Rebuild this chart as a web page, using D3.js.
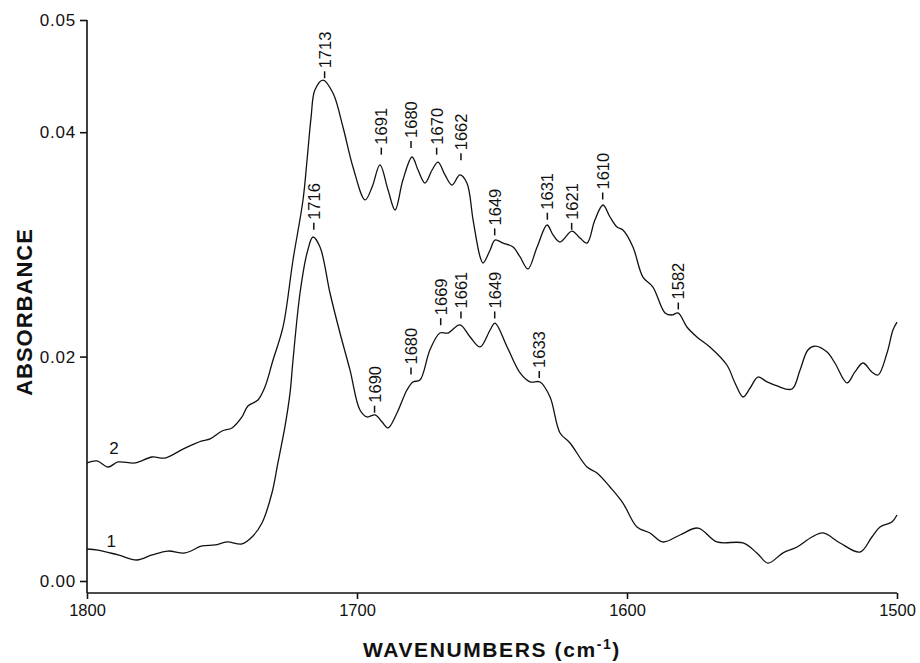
<!DOCTYPE html>
<html><head><meta charset="utf-8">
<script src="https://cdn.jsdelivr.net/npm/d3@7"></script>
<style>
body{margin:0;background:#fff;}
svg{display:block;}
</style></head><body>
<svg id="chart" width="920" height="663"></svg>
<script>
// ---- data ----
const wn2 = [1800,1796.3,1792.2,1788.5,1782.2,1775.9,1771.1,1763.7,1757.4,1754.4,1750,1746.3,1742.6,1740.4,1736.7,1734.1,1731.1,1727.4,1723.7,1720,1718.5,1717,1715.6,1712.6,1708.9,1705.2,1701.5,1697,1694.4,1691.5,1688.5,1685.9,1683,1679.6,1677.4,1674.8,1672.2,1670,1667.4,1664.8,1661.9,1659.3,1657,1654.4,1653.3,1650.7,1648.9,1645.9,1642.2,1639.6,1636.7,1633.3,1629.6,1627.4,1624.8,1620.4,1617.4,1614.8,1611.9,1608.9,1606.3,1603.7,1601.5,1597.8,1594.1,1590.4,1585.9,1583.3,1581.1,1577.8,1574.1,1569.3,1563,1560,1557,1554.4,1551.5,1548.1,1544.4,1538.9,1535.9,1533,1530.4,1525.9,1523,1518.5,1515.6,1512.6,1509.3,1507,1503.7,1501.5,1500];
const abs2 = [0.01052,0.01070,0.01016,0.01061,0.01052,0.01105,0.01096,0.01185,0.01248,0.01266,0.01337,0.01364,0.01462,0.01560,0.01613,0.01729,0.01970,0.02264,0.02861,0.03396,0.03752,0.04135,0.04376,0.04465,0.04349,0.04046,0.03690,0.03396,0.03512,0.03708,0.03485,0.03307,0.03574,0.03779,0.03663,0.03547,0.03663,0.03734,0.03619,0.03529,0.03619,0.03547,0.03217,0.02888,0.02834,0.02950,0.03039,0.03012,0.02977,0.02888,0.02781,0.02977,0.03173,0.03084,0.03021,0.03119,0.03057,0.03012,0.03217,0.03351,0.03244,0.03155,0.03128,0.02977,0.02709,0.02620,0.02389,0.02371,0.02389,0.02264,0.02175,0.02086,0.01925,0.01765,0.01640,0.01720,0.01818,0.01774,0.01738,0.01711,0.01881,0.02059,0.02094,0.02041,0.01943,0.01765,0.01863,0.01943,0.01863,0.01836,0.02032,0.02237,0.02308];

const wn1 = [1800,1795.9,1788.5,1781.5,1775.9,1770,1763.7,1757.4,1752.6,1748.1,1742.6,1738.9,1735.2,1731.5,1729.3,1726.7,1724.8,1723.7,1721.1,1718.5,1716.3,1713.7,1710,1706.3,1702.6,1698.9,1696.3,1693.3,1690.7,1688.5,1685.2,1681.5,1679.3,1676.7,1673,1669.3,1666.3,1661.9,1658.1,1654.4,1650.7,1648.9,1644.4,1639.6,1635.9,1632.2,1628.5,1624.8,1621.1,1614.8,1611.1,1606.3,1601.5,1596.3,1591.5,1586.7,1580.4,1573.7,1566.7,1557,1551.9,1547.8,1542.2,1537,1531.5,1527.4,1521.1,1513.7,1509.3,1506.3,1501.9,1500];
const abs1 = [0.00285,0.00276,0.00232,0.00187,0.00232,0.00267,0.00250,0.00312,0.00321,0.00348,0.00330,0.00392,0.00517,0.00784,0.01052,0.01373,0.01676,0.01970,0.02567,0.02923,0.03066,0.02977,0.02567,0.02210,0.01881,0.01524,0.01462,0.01480,0.01417,0.01364,0.01497,0.01702,0.01774,0.01791,0.02059,0.02210,0.02210,0.02282,0.02175,0.02086,0.02237,0.02299,0.02086,0.01854,0.01774,0.01774,0.01640,0.01319,0.01230,0.01016,0.00963,0.00838,0.00695,0.00481,0.00428,0.00348,0.00410,0.00472,0.00348,0.00339,0.00250,0.00160,0.00250,0.00303,0.00392,0.00428,0.00339,0.00258,0.00392,0.00481,0.00526,0.00588];

// peak annotations
const peakText = ["1713","1691","1680","1670","1662","1649","1631","1621","1610","1582","1716","1690","1680","1669","1661","1649","1633"];
const peakWn   = [1712,1691,1680,1670.5,1661.5,1649,1629.5,1620.5,1609,1581,1716,1693.5,1680,1669,1661.5,1649,1632.5];
const peakAbs  = [0.0448,0.0380,0.0386,0.0380,0.0375,0.0308,0.0322,0.0313,0.0340,0.0242,0.0313,0.0150,0.0184,0.0228,0.0234,0.0234,0.0181];

// curve number labels
const curveNames = ["2","1"];
const curveNameWn = [1790,1791];
const curveNameAbs = [0.0113,0.0030];

const xTicks = [1800,1700,1600,1500];
const yTicks = [0.00,0.02,0.04,0.05];

// ---- chart ----
const svg = d3.select("#chart");
const x = d3.scaleLinear().domain([1800,1500]).range([87,897]);
const y = d3.scaleLinear().domain([-0.00107,0.05]).range([593,20]);

const numFont = "'Liberation Sans', Arial, sans-serif";

// axes
const yAxis = d3.axisLeft(y).tickValues(yTicks).tickFormat(d3.format(".2f")).tickSize(7).tickPadding(4);
const gy = svg.append("g").attr("transform","translate(87,0)").call(yAxis);
gy.select(".domain").attr("stroke","#111").attr("stroke-width",1.6).attr("d","M0,20V593");
gy.selectAll(".tick line").attr("stroke","#111").attr("stroke-width",1.6);
gy.selectAll(".tick text").attr("font-family",numFont).attr("font-size",17).attr("letter-spacing",0.8).attr("fill","#111");

const xAxis = d3.axisBottom(x).tickValues(xTicks).tickFormat(d3.format("d")).tickSize(6).tickPadding(5);
const gx = svg.append("g").attr("transform","translate(0,593)").call(xAxis);
gx.select(".domain").attr("stroke","#111").attr("stroke-width",1.6).attr("d","M87,0H897");
gx.selectAll(".tick line").attr("stroke","#111").attr("stroke-width",1.6);
gx.selectAll(".tick text").attr("font-family",numFont).attr("font-size",16.5).attr("fill","#111");

// axis titles
svg.append("text")
  .attr("transform","translate(32,312) rotate(-90)")
  .attr("text-anchor","middle")
  .attr("font-family","'Liberation Sans', Arial, sans-serif")
  .attr("font-weight","bold").attr("font-size",22).attr("letter-spacing",1)
  .attr("fill","#111").text("ABSORBANCE");

const xt = svg.append("text")
  .attr("x",492).attr("y",657)
  .attr("text-anchor","middle")
  .attr("font-family","'Liberation Sans', Arial, sans-serif")
  .attr("font-weight","bold").attr("font-size",21).attr("letter-spacing",1.6)
  .attr("fill","#111");
xt.append("tspan").text("WAVENUMBERS  (cm");
xt.append("tspan").attr("dy",-8).attr("font-size",14).text("-1");
xt.append("tspan").attr("dy",8).text(")");

// spectra
const line = d3.line().x(d=>x(d[0])).y(d=>y(d[1])).curve(d3.curveCatmullRom.alpha(0.5));
const series = [d3.zip(wn1,abs1), d3.zip(wn2,abs2)];
svg.selectAll("path.spec").data(series).join("path")
  .attr("class","spec").attr("d",line)
  .attr("fill","none").attr("stroke","#111").attr("stroke-width",1.3);

// peak labels
const pk = svg.selectAll("g.pk").data(peakText.map((t,i)=>({t,w:peakWn[i],a:peakAbs[i]}))).join("g")
  .attr("class","pk")
  .attr("transform",d=>`translate(${x(d.w)},${y(d.a)}) rotate(-90)`);
pk.append("line").attr("x1",0).attr("x2",7).attr("y1",0).attr("y2",0).attr("stroke","#111").attr("stroke-width",1.5);
pk.append("text").attr("x",10).attr("dy","0.36em")
  .attr("font-family",numFont).attr("font-size",16.5).attr("fill","#111").text(d=>d.t);

// curve numbers
svg.selectAll("text.cn").data(curveNames.map((t,i)=>({t,w:curveNameWn[i],a:curveNameAbs[i]}))).join("text")
  .attr("class","cn").attr("x",d=>x(d.w)).attr("y",d=>y(d.a))
  .attr("text-anchor","middle")
  .attr("font-family",numFont).attr("font-size",17).attr("fill","#111").text(d=>d.t);
</script>
</body></html>
